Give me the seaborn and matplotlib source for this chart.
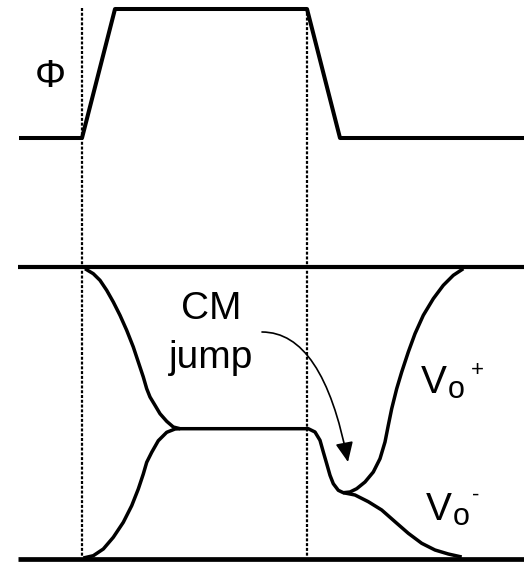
import matplotlib
matplotlib.use("Agg")
import matplotlib.pyplot as plt
import seaborn as sns
import pandas as pd

sns.set_theme(style="white")
plt.rcParams["font.family"] = ["Liberation Sans", "DejaVu Sans"]
plt.rcParams["text.color"] = "black"

# Clock phase Phi (time, level)
phi_t = [19, 82, 115, 307, 340, 524]
phi_v = [424, 424, 553, 553, 424, 424]

# Supply rails of the output stage
rail_top = 295
rail_bottom = 3.5
rail_t = [18, 524]

# Phase edges marked with dotted guides
edge_t = [82, 307]
edge_v = [554, 5]

# Vo+ : reset, settle to common mode, CM jump, regeneration to the top rail
vop_t = [85, 93.3, 100, 106.7, 113.3, 120, 126.7, 133.3, 138.3, 143.3, 146.7,
         150, 155, 160, 166.7, 173.3, 180, 308.3, 315, 320, 323.3, 326.7, 330,
         333.3, 338.3, 343.3, 350, 356.7, 365, 373.3, 380, 385, 388.3, 391.7,
         396.7, 401.7, 408.3, 415, 423.3, 433.3, 443.3, 453.3, 463.3]
vop_v = [293.3, 288.3, 281.7, 271.7, 260, 246.7, 231.7, 215, 200, 185, 173.3,
         165, 156.7, 148.3, 140.7, 135, 133.3, 133.3, 130, 121.7, 110, 98.3,
         86.7, 78.3, 71.7, 69.3, 70, 73.3, 80, 90, 103.3, 120, 136.7, 153.3,
         173.3, 190, 210, 228.3, 246.7, 263.3, 276.7, 286.7, 293.3]

# Vo- : rise to common mode, then regeneration to the bottom rail
von_rise_t = [83.3, 93.3, 103.3, 113.3, 123.3, 131.7, 138.3, 143.3, 146.7,
              151.7, 158.3, 166.7, 175, 180]
von_rise_v = [4, 6.3, 13, 24.7, 39.7, 56.3, 73, 88, 99.7, 109.7, 121.3,
              129.7, 133, 133.3]
von_tail_t = [343.3, 355, 368.3, 381.7, 395, 408.3, 421.7, 435, 448.3, 461.7]
von_tail_v = [69.3, 67, 60.3, 52, 40.3, 28.7, 18.7, 12, 8, 5]

# Annotation arrow for the common-mode jump
arrow_from = (262, 230)
arrow_to = (348, 100)

fig = plt.figure(figsize=(5.24, 5.62), dpi=100)
ax = fig.add_axes([0, 0, 1, 1])
ax.set_xlim(0, 524)
ax.set_ylim(0, 562)
ax.axis("off")

black = "black"


def trace(t, v, lw):
    df = pd.DataFrame({"t": t, "v": v})
    sns.lineplot(data=df, x="t", y="v", sort=False, estimator=None, ax=ax,
                 color=black, lw=lw, solid_joinstyle="round",
                 solid_capstyle="butt")


# dotted edge guides
for x in edge_t:
    ax.plot([x, x], edge_v, color=black, lw=1.6, ls=(0, (1.35, 0.8)))

trace(phi_t, phi_v, 2.9)
trace(rail_t, [rail_top, rail_top], 3.0)
trace(rail_t, [rail_bottom, rail_bottom], 3.4)
trace(vop_t, vop_v, 2.5)
trace(von_rise_t, von_rise_v, 2.5)
trace(von_tail_t, von_tail_v, 2.5)

ax.annotate("", xy=arrow_to, xytext=arrow_from,
            arrowprops=dict(arrowstyle="-|>,head_length=0.6,head_width=0.27",
                            connectionstyle="angle3,angleA=0,angleB=-79",
                            color=black, lw=1.2, shrinkA=0, shrinkB=0,
                            mutation_scale=20))

fs = 28
ax.text(50, 475, "\u03a6", fontsize=fs, ha="center", va="baseline")
ax.text(211, 243, "CM", fontsize=fs, ha="center", va="baseline")
ax.text(211, 194, "jump", fontsize=fs, ha="center", va="baseline")

# output labels: V, subscript o, superscript sign
ax.text(421, 169, "V", fontsize=fs, ha="left", va="baseline")
ax.text(447.5, 164, "o", fontsize=22, ha="left", va="baseline")
ax.text(477, 186, "+", fontsize=16, ha="center", va="baseline")

ax.text(426, 42, "V", fontsize=fs, ha="left", va="baseline")
ax.text(452.5, 37, "o", fontsize=22, ha="left", va="baseline")
ax.text(476, 61, "-", fontsize=16, ha="center", va="baseline")

fig.savefig("out.png", dpi=100)
